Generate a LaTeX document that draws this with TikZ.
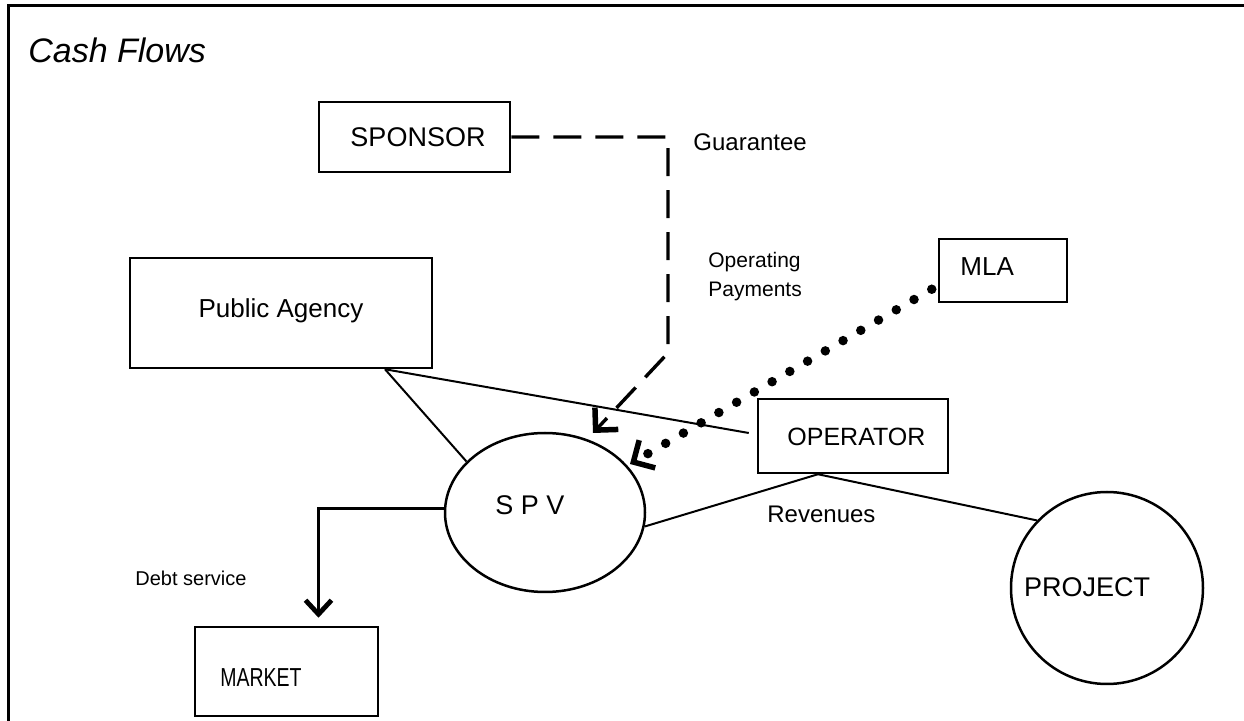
\documentclass[tikz,border=0pt]{standalone}
\usepackage{fontspec}
\setmainfont{Liberation Sans}
\usetikzlibrary{arrows.meta,calc,shapes.geometric}

\begin{document}
\begin{tikzpicture}[x=0.5pt,y=-0.5pt,
  box/.style={draw, line width=1.25pt, inner sep=0pt},
  txt/.style={inner sep=0pt, font=\fontsize{#1}{#1}\selectfont},
  txt/.default=13,
  link/.style={line width=1pt},
  guar/.style={line width=1.7pt, dash pattern=on 14pt off 7pt,
    -{Straight Barb[sharp, length=8pt, width=16pt, line width=2.75pt]}},
  oppay/.style={line width=4.75pt, line cap=round, dash pattern=on 0pt off 10.25pt,
    -{Straight Barb[sharp, length=8pt, width=16pt, line width=2.75pt]}},
  debt/.style={line width=1.5pt,
    -{Straight Barb[sharp, length=7pt, width=13pt, line width=2.4pt]}}
]
\useasboundingbox (0,0) rectangle (1244,721);

% frame
\draw[line width=1.3pt] (8.5,721) -- (8.5,5.5) -- (1244,5.5);
\node[inner sep=0pt, anchor=west, font=\fontsize{17}{20}\selectfont\itshape] (title) at (28,50) {Cash Flows};

% parties
\node[box, minimum width=95.5pt, minimum height=35pt] (sponsor) at (414.5,137) {};
\node[box, minimum width=151pt, minimum height=55pt] (public) at (281,313) {};
\node[box, minimum width=64pt, minimum height=31.5pt] (mla) at (1003,270.5) {};
\node[box, minimum width=95pt, minimum height=37pt] (operator) at (853,436) {};
\node[box, minimum width=91.5pt, minimum height=44.5pt] (market) at (286.5,671.5) {};
\node[box, ellipse, minimum width=100pt, minimum height=79.5pt] (spv) at (545,512.5) {};
\node[box, circle, minimum size=96pt] (project) at (1107,588) {};

\node[txt=13.5] (sponsor-t) at (418,137) {SPONSOR};
\node[txt] (public-t) at (281,311) {Public Agency};
\node[txt, anchor=west] (mla-t) at (960,267) {MLA};
\node[txt=12.5, anchor=west] (operator-t) at (787,437) {OPERATOR};
\node[txt, anchor=west] (market-t) at (220,678) {\scalebox{0.75}[1]{MARKET}};
\node[txt=13.5] (spv-t) at (530,505) {S P V};
\node[txt=13.5] (project-t) at (1087,587) {PROJECT};

% flow labels
\node[txt=12, anchor=west] (guar-t) at (693,142) {Guarantee};
\node[inner sep=0pt, anchor=west, align=left, font=\fontsize{10.5}{14.5}\selectfont] (oppay-t) at (708,277) {Operating\\Payments};
\node[txt=12, anchor=west] (rev-t) at (767,514) {Revenues};
\node[txt=10, anchor=west] (debt-t) at (135,578) {Debt service};

% relations
\coordinate (pa) at ($(public.south)+(104,0)$);
\draw[link] (pa) -- (spv.147);
\draw[link] (pa) -- ($(operator.west)+(-8,-3)$);
\coordinate (op) at ($(operator.south)+(-35,0)$);
\draw[link] (op) -- (spv.-8);
\draw[link] (op) -- (project.136);

% guarantee (dashed)
\coordinate (gbend) at (668,353);
\coordinate (gtip) at (593,433);
\draw[guar] (sponsor.east) -| (gbend) -- (gtip);

% operating payments (dotted)
\coordinate (mstart) at ($(mla.south west)+(-6,-14)$);
\coordinate (mtip) at (630,464);
\draw[oppay] (mstart) -- (mtip);

% debt service
\draw[debt] (spv.178) -| ($(market.north)+(32,-8)$);
\end{tikzpicture}
\end{document}
